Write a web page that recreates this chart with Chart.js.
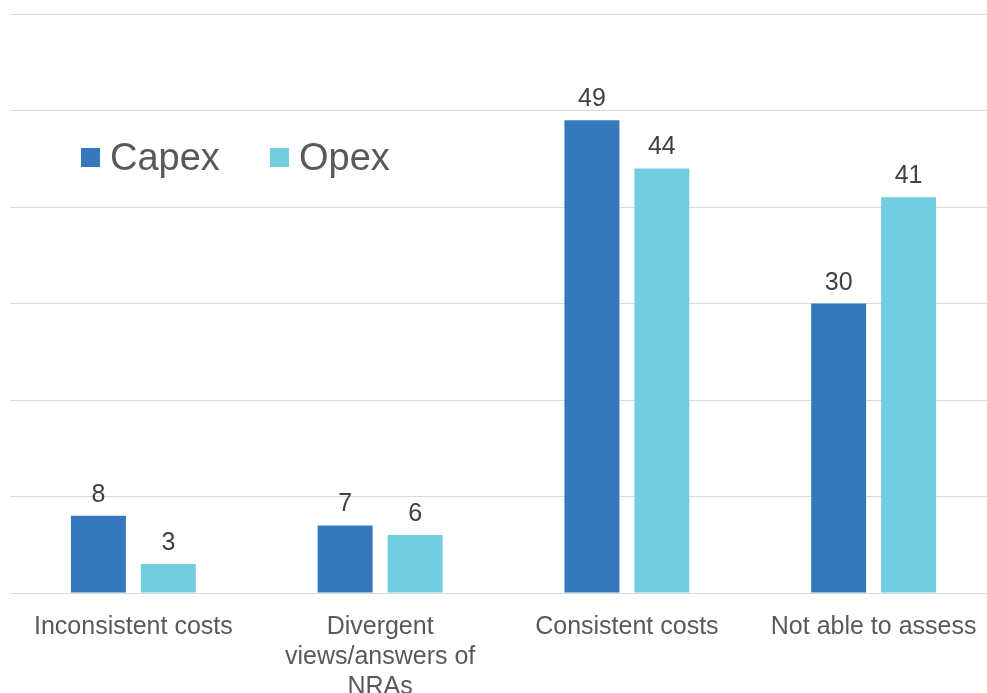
<!DOCTYPE html>
<html>
<head>
<meta charset="utf-8">
<script src="https://cdn.jsdelivr.net/npm/chart.js@4.4.1/dist/chart.umd.min.js"></script>
<style>
  html, body { margin: 0; padding: 0; background: #ffffff; overflow: hidden; }
  #wrap { position: relative; width: 997px; height: 721px; }
</style>
</head>
<body>
<div id="wrap"><canvas id="c"></canvas></div>
<script>
const categories = ["Inconsistent costs", ["Divergent", "views/answers of", "NRAs"], "Consistent costs", "Not able to assess"];
const seriesNames = ["Capex", "Opex"];
const capexValues = [8, 7, 49, 30];
const opexValues = [3, 6, 44, 41];
const yTicksMax = 60;
const yTickStep = 10;

const colors = ["#3578BE", "#72CDE0"];
const FONT = "'Liberation Sans', Arial, sans-serif";

const valueLabels = {
  id: 'valueLabels',
  afterDatasetsDraw(chart) {
    const ctx = chart.ctx;
    ctx.save();
    ctx.font = "25px " + FONT;
    ctx.fillStyle = "#404040";
    ctx.textAlign = "center";
    ctx.textBaseline = "alphabetic";
    chart.data.datasets.forEach((ds, di) => {
      const meta = chart.getDatasetMeta(di);
      meta.data.forEach((el, i) => {
        ctx.fillText(String(ds.data[i]), el.x, el.y - 14);
      });
    });
    ctx.restore();
  }
};

const insideLegend = {
  id: 'insideLegend',
  afterDraw(chart) {
    const ctx = chart.ctx;
    ctx.save();
    const starts = [81, 270];
    chart.data.datasets.forEach((ds, di) => {
      const x = starts[di];
      ctx.fillStyle = ds.backgroundColor;
      ctx.fillRect(x, 148, 19, 19);
      ctx.font = "38px " + FONT;
      ctx.fillStyle = "#595959";
      ctx.textAlign = "left";
      ctx.textBaseline = "alphabetic";
      ctx.fillText(ds.label, x + 29, 170);
    });
    ctx.restore();
  }
};

new Chart(document.getElementById('c'), {
  type: 'bar',
  data: {
    labels: categories,
    datasets: [
      { label: seriesNames[0], data: capexValues, backgroundColor: colors[0], borderWidth: 0 },
      { label: seriesNames[1], data: opexValues, backgroundColor: colors[1], borderWidth: 0 }
    ]
  },
  options: {
    responsive: true,
    maintainAspectRatio: false,
    animation: false,
    layout: { padding: { left: 10, top: 14, right: 0, bottom: 0 } },
    datasets: { bar: { categoryPercentage: 0.567, barPercentage: 0.786 } },
    plugins: {
      legend: { display: false },
      tooltip: { enabled: false }
    },
    scales: {
      x: {
        grid: { display: false, drawTicks: false },
        border: { display: true, color: '#d9d9d9', width: 1 },
        ticks: {
          color: '#595959',
          font: { family: FONT, size: 25, lineHeight: 1.2 },
          padding: 19,
          maxRotation: 0,
          autoSkip: false
        }
      },
      y: {
        min: 0,
        max: yTicksMax,
        ticks: { display: false, stepSize: yTickStep },
        grid: { color: '#d9d9d9', lineWidth: 1, drawTicks: false },
        border: { display: false }
      }
    }
  },
  plugins: [valueLabels, insideLegend]
});
</script>
</body>
</html>
